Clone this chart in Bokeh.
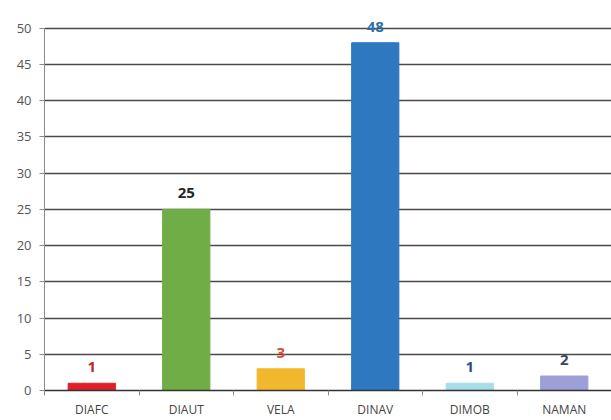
from bokeh.plotting import figure
from bokeh.models import ColumnDataSource, FixedTicker, Range1d
from bokeh.core.properties import value
from bokeh.embed import file_html
from bokeh.resources import INLINE

categories = ["DIAFC", "DIAUT", "VELA", "DINAV", "DIMOB", "NAMAN"]
counts = [1, 25, 3, 48, 1, 2]
bar_colors = ["#e0202a", "#70ad47", "#f1b82d", "#2e78bf", "#a7dde8", "#9e9fd6"]
label_colors = ["#c0272d", "#262626", "#d0502f", "#2d6ea8", "#2f4f7f", "#3d4466"]
y_ticks = [0, 5, 10, 15, 20, 25, 30, 35, 40, 45, 50]

xs = [i + 0.5 for i in range(len(categories))]
src = ColumnDataSource(dict(x=xs, top=counts, color=bar_colors,
                            lcolor=label_colors, label=[str(c) for c in counts]))

p = figure(width=611, height=420, output_backend="svg", toolbar_location=None,
           x_range=Range1d(0, len(categories)), y_range=Range1d(0, 53.0),
           min_border_left=44, min_border_right=0, min_border_top=6,
           min_border_bottom=30)
p.outline_line_color = None
p.background_fill_color = "#ffffff"
p.border_fill_color = "#ffffff"

p.vbar(x="x", top="top", width=0.5, bottom=0, color="color", source=src)
p.text(x="x", y="top", text="label", text_color="lcolor", source=src,
       text_align="center", text_baseline="bottom", y_offset=-11,
       text_font=value("Open Sans"), text_font_style="bold",
       text_font_size="15px")

# y axis
p.yaxis.ticker = FixedTicker(ticks=y_ticks)
p.yaxis.bounds = (0, 50)
p.yaxis.axis_line_color = "#8a8a8a"
p.yaxis.major_tick_line_color = "#8a8a8a"
p.yaxis.major_tick_out = 5
p.yaxis.major_tick_in = 0
p.yaxis.minor_tick_line_color = None
p.yaxis.major_label_standoff = 8
p.yaxis.major_label_text_font = "Open Sans"
p.yaxis.major_label_text_font_size = "13px"
p.yaxis.major_label_text_color = "#555555"

# x axis
p.xaxis.ticker = FixedTicker(ticks=xs, minor_ticks=list(range(len(categories) + 1)))
p.xaxis.major_label_overrides = {x: c for x, c in zip(xs, categories)}
p.xaxis.axis_line_color = "#333333"
p.xaxis.axis_line_width = 1.3
p.xaxis.major_tick_line_color = None
p.xaxis.major_tick_out = 5
p.xaxis.minor_tick_line_color = "#8a8a8a"
p.xaxis.minor_tick_out = 5
p.xaxis.minor_tick_in = 0
p.xaxis.major_label_standoff = 5
p.xaxis.major_label_text_font = "Open Sans"
p.xaxis.major_label_text_font_size = "12px"
p.xaxis.major_label_text_color = "#444444"

p.xgrid.grid_line_color = None
p.ygrid.ticker = FixedTicker(ticks=y_ticks[1:])
p.ygrid.grid_line_color = "#4a4a4a"
p.ygrid.grid_line_width = 1.3

open("out.html", "w").write(file_html(p, INLINE))
